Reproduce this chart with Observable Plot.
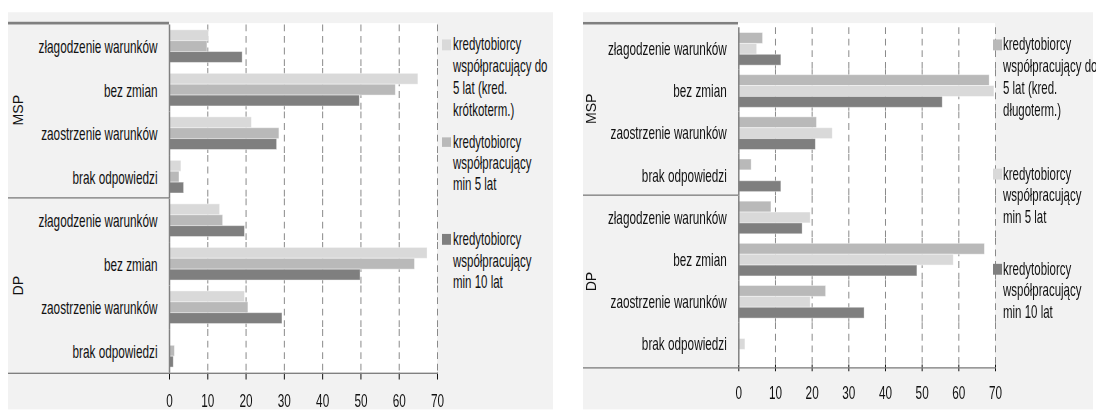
<!DOCTYPE html>
<html>
<head>
<meta charset="utf-8">
<script src="https://cdn.jsdelivr.net/npm/d3@7"></script>
<script src="https://cdn.jsdelivr.net/npm/@observablehq/plot@0.6"></script>
<style>
  html, body { margin: 0; padding: 0; background: #ffffff; }
  body { width: 1096px; height: 410px; overflow: hidden; position: relative; }
  #root { position: absolute; left: 0; top: 0; width: 1096px; height: 301.47px;
          transform: scaleY(1.36); transform-origin: 0 0;
          font-family: 'Liberation Sans Narrow', 'Arial Narrow', 'Liberation Sans', Arial, sans-serif; color: #111; }
  .abs { position: absolute; }
  .line { position: absolute; background: #808080; }
  .legend { position: absolute; font-size: 14px; line-height: 15.9px; white-space: nowrap;
            transform: scaleX(0.82); transform-origin: 0 0; }
  .sw { position: absolute; width: 9px; height: 7.4px; }
  .grp { position: absolute; font-size: 14px; transform: translate(-50%, -50%) rotate(-90deg) scaleX(0.74); white-space: nowrap; }
  svg g[aria-label="x-axis tick"] { stroke: #808080; }
</style>
</head>
<body>
<div id="root"></div>
<script>
// ---------- data ----------
const groups = ["MSP", "DP"];
const categories = ["złagodzenie warunków", "bez zmian", "zaostrzenie warunków", "brak odpowiedzi"];
const xTicks = [0, 10, 20, 30, 40, 50, 60, 70];
const gridTicks = [10, 20, 30, 40, 50, 60, 70];

const seriesLeft = [
  "kredytobiorcy współpracujący do 5 lat (kred. krótkoterm.)",
  "kredytobiorcy współpracujący min 5 lat",
  "kredytobiorcy współpracujący min 10 lat"
];
const legendLeft = [
  ["kredytobiorcy", "współpracujący do", "5 lat (kred.", "krótkoterm.)"],
  ["kredytobiorcy", "współpracujący", "min 5 lat"],
  ["kredytobiorcy", "współpracujący", "min 10 lat"]
];
// order: MSP (4 categories) then DP (4 categories)
const leftDo5  = [10.3, 65.0, 21.5, 3.1, 13.2, 67.4, 19.7, 0];
const leftMin5 = [9.9, 59.1, 28.7, 2.6, 14.0, 64.1, 20.6, 1.4];
const leftMin10 = [19.1, 49.7, 28.1, 3.8, 19.7, 49.9, 29.5, 1.1];
const colorsLeft = ["#d9d9d9", "#b9b9b9", "#7f7f7f"];

const seriesRight = [
  "kredytobiorcy współpracujący do 5 lat (kred. długoterm.)",
  "kredytobiorcy współpracujący min 5 lat",
  "kredytobiorcy współpracujący min 10 lat"
];
const legendRight = [
  ["kredytobiorcy", "współpracujący do", "5 lat (kred.", "długoterm.)"],
  ["kredytobiorcy", "współpracujący", "min 5 lat"],
  ["kredytobiorcy", "współpracujący", "min 10 lat"]
];
const rightDo5  = [6.6, 68.4, 21.3, 3.5, 8.9, 67.1, 23.8, 0];
const rightMin5 = [5.0, 69.7, 25.6, 0, 19.6, 58.6, 19.6, 1.8];
const rightMin10 = [11.6, 55.6, 21.0, 11.6, 17.4, 48.7, 34.3, 0];
const colorsRight = ["#b9b9b9", "#d9d9d9", "#7f7f7f"];

// ---------- build ----------
const FONT = "'Liberation Sans Narrow', 'Arial Narrow', 'Liberation Sans', Arial, sans-serif";
const NARROW = 0.84;
const root = document.getElementById("root");
const keys = [];
for (const g of groups) for (const c of categories) keys.push(g + "|" + c);

function rowsFor(series, valueArrays) {
  const rows = [];
  keys.forEach((k, i) => {
    series.forEach((s, j) => {
      rows.push({key: k, group: k.split("|")[0], cat: k.split("|")[1], series: s, value: valueArrays[j][i]});
    });
  });
  return rows;
}

function el(cls, style, html) {
  const d = document.createElement("div");
  d.className = cls;
  Object.assign(d.style, style);
  if (html != null) d.textContent = html;
  root.appendChild(d);
  return d;
}

// condense SVG text horizontally (no narrow font is installed)
function narrowText(svg, k) {
  svg.querySelectorAll("text").forEach(t => {
    const L = t.getComputedTextLength();
    if (L > 0) {
      t.setAttribute("textLength", (L * k).toFixed(2));
      t.setAttribute("lengthAdjust", "spacingAndGlyphs");
    }
  });
}

function panel(p) {
  const {left, width, top, height, mL, mR, mT, mB, series, values, colors, legend, legendTops, labelX} = p;
  const x0 = left + mL, x1 = left + width - mR;
  const y0 = top + mT, y1 = top + height - mB;
  // gray background
  el("abs", {left: left + "px", top: top + "px", width: p.bgWidth + "px", height: (301.47 - top) + "px", background: "#f2f2f2"});
  // white plot area
  el("abs", {left: x0 + "px", top: y0 + "px", width: (x1 - x0) + "px", height: (y1 - y0) + "px", background: "#ffffff"});

  const rows = rowsFor(series, values);
  const chart = Plot.plot({
    width, height,
    marginLeft: mL, marginRight: mR, marginTop: mT, marginBottom: mB,
    style: {fontFamily: FONT, fontSize: "14px", color: "#111", background: "transparent", overflow: "visible"},
    facet: {data: rows, y: "key"},
    fy: {domain: keys, padding: 0, axis: "left", tickSize: 0, tickPadding: 12, label: null, tickFormat: k => k.split("|")[1]},
    y: {domain: series, axis: null, paddingInner: 0, paddingOuter: 0.4},
    x: {domain: [0, 70], ticks: xTicks, tickSize: 5, tickPadding: 10, label: null, tickFormat: d => String(d)},
    color: {domain: series, range: colors},
    marks: [
      Plot.ruleX(gridTicks, {stroke: "#8a8a8a", strokeWidth: 1, strokeDasharray: "5,3.5"}),
      Plot.barX(rows, {x: "value", y: "series", fill: "series", stroke: "#ffffff", strokeOpacity: 0.45, strokeWidth: 0.7}),
      Plot.ruleX([0], {stroke: "#808080", strokeWidth: 1.5})
    ]
  });
  chart.style.position = "absolute";
  chart.style.left = left + "px";
  chart.style.top = top + "px";
  root.appendChild(chart);
  narrowText(chart, NARROW);

  // structural lines
  const band = (y1 - y0) / keys.length;
  el("line", {left: left + "px", top: (y0 - 0.5) + "px", width: (x0 - left) + "px", height: "1.1px"});
  el("line", {left: left + "px", top: (y0 + band * categories.length - 0.5) + "px", width: (x0 - left) + "px", height: "1.1px"});
  el("line", {left: left + "px", top: (y1 - 0.6) + "px", width: (x1 - left + 0.5) + "px", height: "1.4px"});

  // group labels
  groups.forEach((g, i) => {
    const cy = y0 + band * categories.length * (i + 0.5);
    el("grp", {left: labelX + "px", top: cy + "px"}, g);
  });

  // legend
  legend.forEach((lines, i) => {
    const t = legendTops[i];
    el("sw", {left: p.legendX + "px", top: (t + 4.3) + "px", background: colors[i]});
    const d = el("legend", {left: (p.legendX + p.legendGap) + "px", top: t + "px"});
    d.innerHTML = lines.map(s => s.replace(/&/g, "&amp;")).join("<br>");
  });
}

const S = 1.36;
panel({
  left: 8, width: 545, top: 12 / S, height: 301.47 - 12 / S, bgWidth: 545,
  mL: 161, mR: 116, mT: 23 / S - 12 / S, mB: 301.47 - 373 / S,
  series: seriesLeft, values: [leftDo5, leftMin5, leftMin10], colors: colorsLeft,
  legend: legendLeft, legendX: 442, legendGap: 11, legendTops: [45 / S - 7.9, 142 / S - 7.9, 239 / S - 7.9], labelX: 18
});
panel({
  left: 583, width: 510, top: 12 / S, height: 301.47 - 12 / S, bgWidth: 510,
  mL: 155.3, mR: 98, mT: 23 / S - 12 / S, mB: 301.47 - 368 / S,
  series: seriesRight, values: [rightDo5, rightMin5, rightMin10], colors: colorsRight,
  legend: legendRight, legendX: 993, legendGap: 9.5, legendTops: [45 / S - 7.9, 174 / S - 7.9, 269 / S - 7.9], labelX: 591
});
</script>
</body>
</html>
